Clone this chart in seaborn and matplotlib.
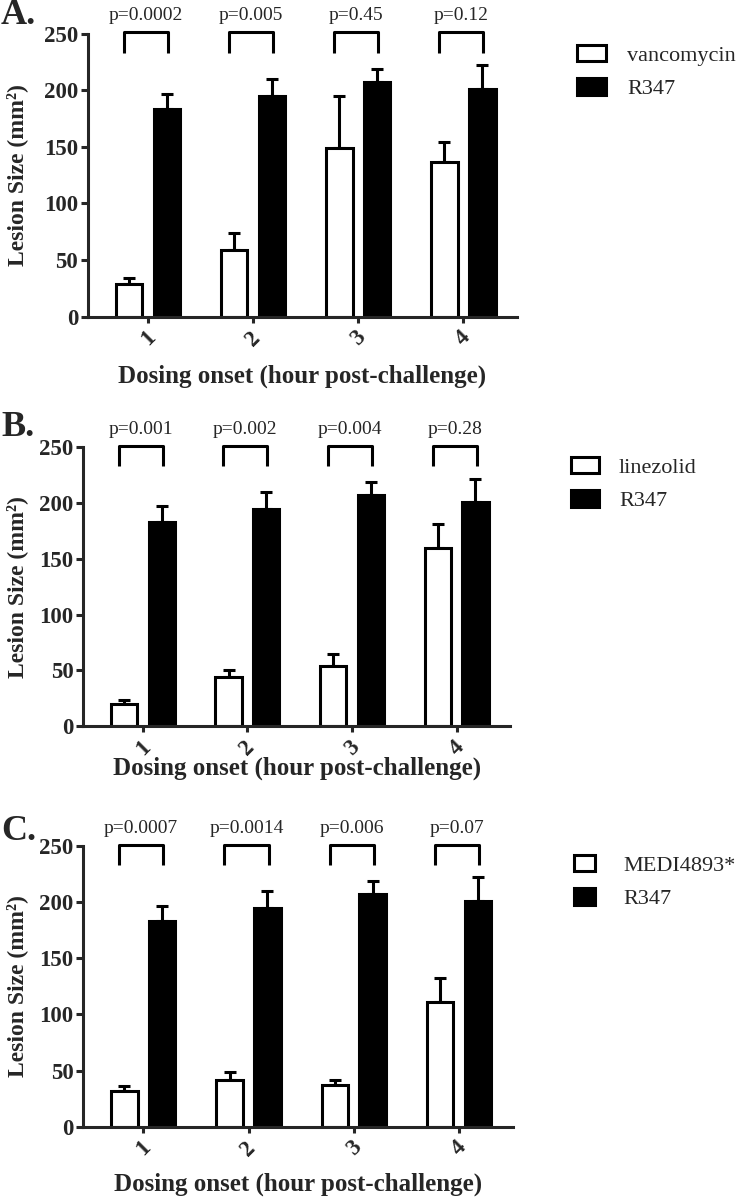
import pandas as pd
import seaborn as sns
import matplotlib.pyplot as plt

# values (mean lesion size, upper SEM)
hours = ["1", "2", "3", "4"]
r347_mean = [183, 195, 207, 201]
r347_sem = [14, 15, 12, 21]

vanco_mean = [29, 59, 149, 137]
vanco_sem = [5, 14.5, 46, 17]
linezolid_mean = [20, 44, 54, 160]
linezolid_sem = [3.5, 6, 11, 21]
medi_mean = [32, 42, 37, 111]
medi_sem = [4, 7, 5, 21]

vanco_p = ["p=0.0002", "p=0.005", "p=0.45", "p=0.12"]
linezolid_p = ["p=0.001", "p=0.002", "p=0.004", "p=0.28"]
medi_p = ["p=0.0007", "p=0.0014", "p=0.006", "p=0.07"]

panels = [
    ("A.", "vancomycin", vanco_mean, vanco_sem, vanco_p),
    ("B.", "linezolid", linezolid_mean, linezolid_sem, linezolid_p),
    ("C.", "MEDI4893*", medi_mean, medi_sem, medi_p),
]

W, H = 742, 1197
# axes boxes in pixels: left, right, top(250), bottom(0)
boxes = [(88, 517, 33.5, 316.7), (83.3, 510, 447.3, 726), (83.3, 512.7, 846, 1126.7)]
letter_y = [15, 428, 832]
legend_xy = [(577, 45), (571, 457), (574, 855)]
legend_hl = [1.3, 1.26, 0.95]
legend_pad = [0.95, 0.9, 1.25]
xlabel_top = [365, 757, 1173]
ylabel_right = [28, 27.7, 27.7]

sns.set_style("ticks")
plt.rcParams["font.family"] = ["Liberation Serif", "DejaVu Serif"]

fig = plt.figure(figsize=(W / 100, H / 100), dpi=100)
lw = 2.2

for i, (letter, drug, mean, sem, pvals) in enumerate(panels):
    l, r, t, b = boxes[i]
    ax = fig.add_axes([l / W, 1 - b / H, (r - l) / W, (b - t) / H])

    df = pd.DataFrame({
        "hour": hours * 2,
        "size": mean + r347_mean,
        "treatment": [drug] * 4 + ["R347"] * 4,
    })
    sns.barplot(data=df, x="hour", y="size", hue="treatment",
                order=hours, hue_order=[drug, "R347"],
                palette=["white", "black"], edgecolor="black", linewidth=lw,
                width=0.72, gap=0.3, errorbar=None, legend=False, ax=ax)
    bars = list(ax.containers)

    # upper-only error bars and p-value brackets
    centers = []
    for cont, sems in zip(bars, [sem, r347_sem]):
        xs = []
        for patch, e in zip(cont.patches, sems):
            x = patch.get_x() + patch.get_width() / 2
            y = patch.get_height()
            ax.errorbar(x, y, yerr=[[0], [e]], fmt="none", ecolor="black",
                        elinewidth=lw, capsize=4.5, capthick=lw, zorder=0.5)
            xs.append(x)
        centers.append(xs)
    for xw, xb, p in zip(centers[0], centers[1], pvals):
        xl, xr = xw - 0.05, xb + 0.01
        ax.plot([xl, xl, xr, xr], [233, 251, 251, 233], color="black",
                lw=lw, clip_on=False, solid_capstyle="butt")
        ax.text((xl + xr) / 2, 266, p, ha="center", va="center", fontsize=14)

    ax.set_ylim(0, 250)
    ax.set_yticks(range(0, 251, 50))
    ax.set_xlim(-0.57, 3.51)
    sns.despine(ax=ax)
    for s in ["left", "bottom"]:
        ax.spines[s].set_linewidth(lw)
    ax.tick_params(axis="y", length=5, width=lw, labelsize=16.5, pad=2)
    ax.tick_params(axis="x", length=4.5, width=lw, labelsize=16.5, pad=3)
    for lab in ax.get_yticklabels() + ax.get_xticklabels():
        lab.set_fontweight("bold")
    for lab in ax.get_xticklabels():
        lab.set_rotation(45)
        lab.set_ha("center")

    ax.set_xlabel("Dosing onset (hour post-challenge)", fontsize=18, fontweight="bold")
    ax.set_ylabel("Lesion Size (mm²)", fontsize=17, fontweight="bold")
    ax.xaxis.set_label_coords(0.5, -(xlabel_top[i] - b) / (b - t))
    ax.yaxis.set_label_coords((ylabel_right[i] - l) / (r - l), 0.5)

    fig.text(1 / W, 1 - letter_y[i] / H, letter, fontsize=26, fontweight="bold",
             ha="left", va="center")

    lx, ly = legend_xy[i]
    handles = [c.patches[0] for c in bars]
    ax.legend(handles, [drug, "R347"], loc="upper left",
              bbox_to_anchor=(lx / W, 1 - ly / H), bbox_transform=fig.transFigure,
              frameon=False, fontsize=16, borderpad=0, borderaxespad=0,
              handlelength=legend_hl[i], handleheight=0.76,
              handletextpad=legend_pad[i], labelspacing=0.55)

fig.savefig("out.png", dpi=100)
